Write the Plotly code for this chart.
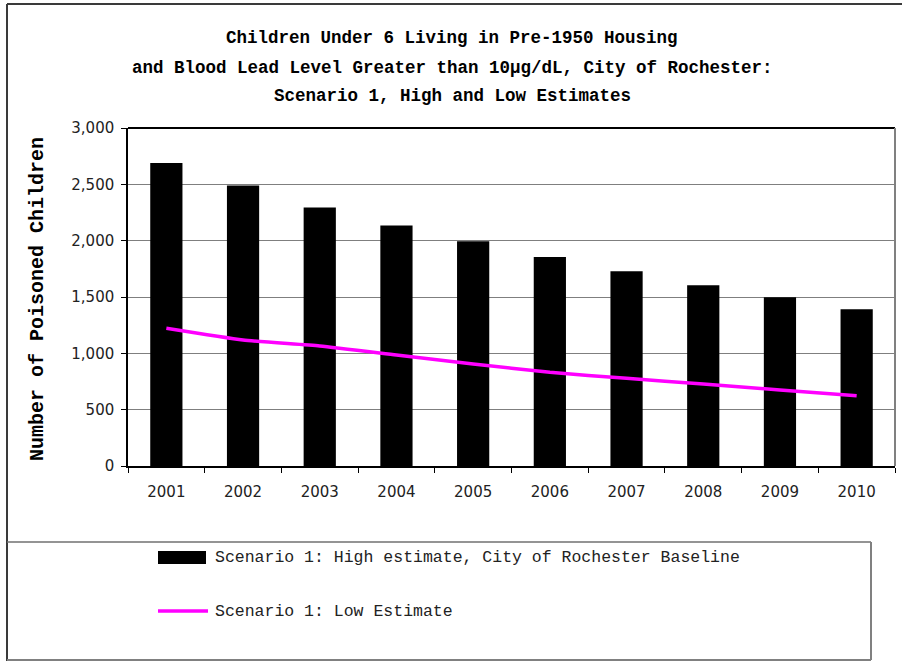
import plotly.graph_objects as go

years = ["2001", "2002", "2003", "2004", "2005", "2006", "2007", "2008", "2009", "2010"]
high_estimate = [2690, 2490, 2295, 2135, 1995, 1855, 1728, 1604, 1497, 1391]
low_estimate = [1222, 1118, 1065, 985, 905, 832, 778, 728, 675, 624]
y_ticks = [0, 500, 1000, 1500, 2000, 2500, 3000]
y_tick_labels = ["0", "500", "1,000", "1,500", "2,000", "2,500", "3,000"]

title_lines = [
    "Children Under 6 Living in Pre-1950 Housing",
    "and Blood Lead Level Greater than 10\u00b5g/dL, City of Rochester:",
    "Scenario 1, High and Low Estimates",
]
y_title = "Number of Poisoned Children"
legend_high = "Scenario 1: High estimate, City of Rochester Baseline"
legend_low = "Scenario 1: Low Estimate"

W, H = 902, 666
L, R, T, B = 128, 895, 128, 466  # plot area in pixels


def px(x):
    return (x - L) / (R - L)


def py(y):
    return (B - y) / (B - T)


TXT = "Liberation Mono"
TICK = "DejaVu Sans"

fig = go.Figure()
fig.add_trace(go.Bar(
    x=years, y=high_estimate, name=legend_high,
    marker=dict(color="black", line=dict(width=0)),
    showlegend=False,
))
fig.add_trace(go.Scatter(
    x=years, y=low_estimate, name=legend_low, mode="lines",
    line=dict(color="#ff00ff", width=3.5, shape="spline", smoothing=0.5),
    showlegend=False,
))

annotations = []
for line, ypix in zip(title_lines, [38, 68, 96]):
    annotations.append(dict(
        text=f"<b>{line}</b>", xref="paper", yref="paper",
        x=px(452), y=py(ypix), xanchor="center", yanchor="middle",
        showarrow=False, font=dict(family=TXT, size=17.5, color="black"),
    ))
annotations.append(dict(
    text=f"<b>{y_title}</b>", xref="paper", yref="paper",
    x=px(37), y=py(299), xanchor="center", yanchor="middle", textangle=-90,
    showarrow=False, font=dict(family=TXT, size=20, color="black"),
))
annotations.append(dict(
    text=legend_high, xref="paper", yref="paper", x=px(213), y=py(557),
    xanchor="left", yanchor="middle", showarrow=False,
    font=dict(family=TXT, size=16.5, color="#222"),
))
annotations.append(dict(
    text=legend_low, xref="paper", yref="paper", x=px(213), y=py(611),
    xanchor="left", yanchor="middle", showarrow=False,
    font=dict(family=TXT, size=16.5, color="#222"),
))

shapes = [
    # outer frame (top and left)
    dict(type="line", xref="paper", yref="paper", x0=px(7), x1=px(902), y0=py(4), y1=py(4),
         line=dict(color="#3a3a3a", width=2)),
    dict(type="line", xref="paper", yref="paper", x0=px(7), x1=px(7), y0=py(4), y1=py(661),
         line=dict(color="#3a3a3a", width=2)),
    # legend box
    dict(type="line", xref="paper", yref="paper", x0=px(7), x1=px(871), y0=py(542), y1=py(542),
         line=dict(color="#707070", width=1.5)),
    dict(type="line", xref="paper", yref="paper", x0=px(7), x1=px(871), y0=py(660), y1=py(660),
         line=dict(color="#808080", width=2)),
    dict(type="line", xref="paper", yref="paper", x0=px(871), x1=px(871), y0=py(542), y1=py(660),
         line=dict(color="#808080", width=2)),
    # legend symbols
    dict(type="rect", xref="paper", yref="paper", x0=px(158), x1=px(206), y0=py(551), y1=py(564),
         fillcolor="black", line=dict(width=0)),
    dict(type="line", xref="paper", yref="paper", x0=px(158), x1=px(208), y0=py(611), y1=py(611),
         line=dict(color="#ff00ff", width=3.5)),
    # plot area frame: top black, right gray
    dict(type="line", xref="paper", yref="paper", x0=0, x1=1, y0=1, y1=1,
         line=dict(color="black", width=2)),
    dict(type="line", xref="paper", yref="paper", x0=1, x1=1, y0=0, y1=1,
         line=dict(color="#808080", width=2)),
]

fig.update_layout(
    width=W, height=H,
    margin=dict(l=L, r=W - R, t=T, b=H - B, pad=0),
    paper_bgcolor="white", plot_bgcolor="white",
    bargap=0.58,
    annotations=annotations,
    shapes=shapes,
    xaxis=dict(
        type="category", tickson="boundaries", ticks="outside", ticklen=5,
        tickcolor="black", tickwidth=1, showline=True, linecolor="black", linewidth=1.5,
        showgrid=False, tickfont=dict(family=TICK, size=15, color="#222"),
        ticklabelstandoff=11,
    ),
    yaxis=dict(
        range=[0, 3000], tickvals=y_ticks, ticktext=y_tick_labels,
        ticks="outside", ticklen=5, tickcolor="black", tickwidth=1,
        showline=True, linecolor="black", linewidth=1.5,
        showgrid=True, gridcolor="#7f7f7f", gridwidth=1, zeroline=False,
        tickfont=dict(family=TICK, size=15, color="#222"),
        ticklabelstandoff=4,
    ),
)

fig.write_html("out.html")
